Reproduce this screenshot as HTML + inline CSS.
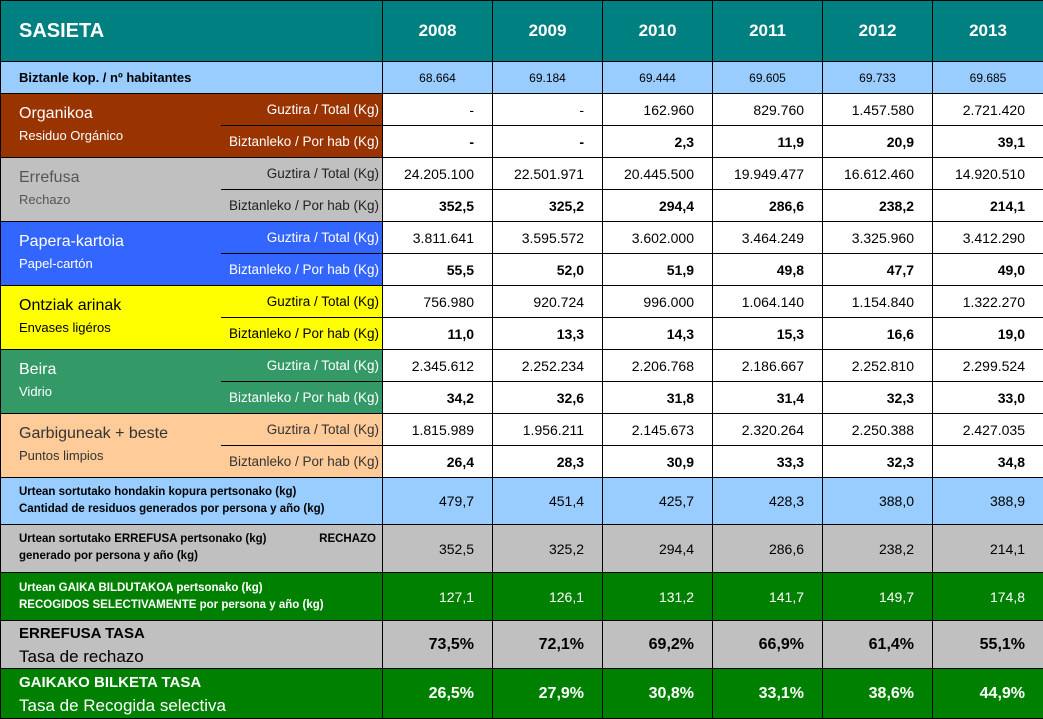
<!DOCTYPE html>
<html><head><meta charset="utf-8"><style>
body{margin:0;background:#fff;}
table{border-collapse:collapse;table-layout:fixed;width:1043px;font-family:"Liberation Sans",sans-serif;}
td{border:1px solid #000;padding:0;overflow:hidden;white-space:nowrap;font-size:14px;}
td.v{text-align:right;padding-right:18px;}
td.b{font-weight:bold;}
.hd td{background:#008080;color:#fff;font-weight:bold;font-size:17px;text-align:center;}
.hab td{background:#99ccff;font-size:12px;}
.cat{padding-left:18px;font-size:16px;vertical-align:top;padding-top:9px;line-height:22px;border-right:none;}
.cat small{font-size:13px;}
.lab{text-align:right;padding-right:3px;font-size:13.5px;border-left:none;}
.lab.t{border-bottom:1px solid #000;}
.sum{font-size:11.5px;font-weight:bold;padding-left:18px;line-height:17px;}
.big{padding-left:18px;font-size:17px;line-height:23px;}
</style></head><body>
<table>
<colgroup><col style="width:220px"><col style="width:162px"><col style="width:110px"><col style="width:110px"><col style="width:110px"><col style="width:110px"><col style="width:110px"><col style="width:111px"></colgroup>
<tr class="hd" style="height:61px"><td colspan="2" style="text-align:left;padding-left:18px;font-size:20px;">SASIETA</td><td>2008</td><td>2009</td><td>2010</td><td>2011</td><td>2012</td><td>2013</td></tr>
<tr class="hab" style="height:32px"><td colspan="2" style="padding-left:18px;font-weight:bold;font-size:13px;">Biztanle kop. / nº habitantes</td><td style="text-align:center">68.664</td><td style="text-align:center">69.184</td><td style="text-align:center">69.444</td><td style="text-align:center">69.605</td><td style="text-align:center">69.733</td><td style="text-align:center">69.685</td></tr>

<tr style="height:32px"><td rowspan="2" class="cat" style="background:#993300;color:#fff">Organikoa<br><small>Residuo Orgánico</small></td><td class="lab t" style="background:#993300;color:#fff">Guztira / Total (Kg)</td><td class="v">-</td><td class="v">-</td><td class="v">162.960</td><td class="v">829.760</td><td class="v">1.457.580</td><td class="v">2.721.420</td></tr>
<tr style="height:32px"><td class="lab" style="background:#993300;color:#fff">Biztanleko / Por hab (Kg)</td><td class="v b">-</td><td class="v b">-</td><td class="v b">2,3</td><td class="v b">11,9</td><td class="v b">20,9</td><td class="v b">39,1</td></tr>

<tr style="height:32px"><td rowspan="2" class="cat" style="background:#c0c0c0;color:#555">Errefusa<br><small>Rechazo</small></td><td class="lab t" style="background:#c0c0c0;color:#222">Guztira / Total (Kg)</td><td class="v">24.205.100</td><td class="v">22.501.971</td><td class="v">20.445.500</td><td class="v">19.949.477</td><td class="v">16.612.460</td><td class="v">14.920.510</td></tr>
<tr style="height:32px"><td class="lab" style="background:#c0c0c0;color:#222">Biztanleko / Por hab (Kg)</td><td class="v b">352,5</td><td class="v b">325,2</td><td class="v b">294,4</td><td class="v b">286,6</td><td class="v b">238,2</td><td class="v b">214,1</td></tr>

<tr style="height:32px"><td rowspan="2" class="cat" style="background:#3366ff;color:#fff">Papera-kartoia<br><small>Papel-cartón</small></td><td class="lab t" style="background:#3366ff;color:#fff">Guztira / Total (Kg)</td><td class="v">3.811.641</td><td class="v">3.595.572</td><td class="v">3.602.000</td><td class="v">3.464.249</td><td class="v">3.325.960</td><td class="v">3.412.290</td></tr>
<tr style="height:32px"><td class="lab" style="background:#3366ff;color:#fff">Biztanleko / Por hab (Kg)</td><td class="v b">55,5</td><td class="v b">52,0</td><td class="v b">51,9</td><td class="v b">49,8</td><td class="v b">47,7</td><td class="v b">49,0</td></tr>

<tr style="height:32px"><td rowspan="2" class="cat" style="background:#ffff00;color:#000">Ontziak arinak<br><small>Envases ligéros</small></td><td class="lab t" style="background:#ffff00;color:#000">Guztira / Total (Kg)</td><td class="v">756.980</td><td class="v">920.724</td><td class="v">996.000</td><td class="v">1.064.140</td><td class="v">1.154.840</td><td class="v">1.322.270</td></tr>
<tr style="height:32px"><td class="lab" style="background:#ffff00;color:#000">Biztanleko / Por hab (Kg)</td><td class="v b">11,0</td><td class="v b">13,3</td><td class="v b">14,3</td><td class="v b">15,3</td><td class="v b">16,6</td><td class="v b">19,0</td></tr>

<tr style="height:32px"><td rowspan="2" class="cat" style="background:#339966;color:#fff">Beira<br><small>Vidrio</small></td><td class="lab t" style="background:#339966;color:#fff">Guztira / Total (Kg)</td><td class="v">2.345.612</td><td class="v">2.252.234</td><td class="v">2.206.768</td><td class="v">2.186.667</td><td class="v">2.252.810</td><td class="v">2.299.524</td></tr>
<tr style="height:32px"><td class="lab" style="background:#339966;color:#fff">Biztanleko / Por hab (Kg)</td><td class="v b">34,2</td><td class="v b">32,6</td><td class="v b">31,8</td><td class="v b">31,4</td><td class="v b">32,3</td><td class="v b">33,0</td></tr>

<tr style="height:32px"><td rowspan="2" class="cat" style="background:#ffcc99;color:#333">Garbiguneak + beste<br><small>Puntos limpios</small></td><td class="lab t" style="background:#ffcc99;color:#333">Guztira / Total (Kg)</td><td class="v">1.815.989</td><td class="v">1.956.211</td><td class="v">2.145.673</td><td class="v">2.320.264</td><td class="v">2.250.388</td><td class="v">2.427.035</td></tr>
<tr style="height:32px"><td class="lab" style="background:#ffcc99;color:#333">Biztanleko / Por hab (Kg)</td><td class="v b">26,4</td><td class="v b">28,3</td><td class="v b">30,9</td><td class="v b">33,3</td><td class="v b">32,3</td><td class="v b">34,8</td></tr>

<tr style="height:47px;background:#99ccff"><td colspan="2" class="sum">Urtean sortutako hondakin kopura pertsonako (kg)<br>Cantidad de residuos generados por persona y año (kg)</td><td class="v">479,7</td><td class="v">451,4</td><td class="v">425,7</td><td class="v">428,3</td><td class="v">388,0</td><td class="v">388,9</td></tr>
<tr style="height:48px;background:#c0c0c0"><td colspan="2" class="sum" style="vertical-align:top;padding-top:6px">Urtean sortutako ERREFUSA pertsonako (kg) <span style="float:right;padding-right:6px">RECHAZO</span><br>generado por persona y año (kg)</td><td class="v">352,5</td><td class="v">325,2</td><td class="v">294,4</td><td class="v">286,6</td><td class="v">238,2</td><td class="v">214,1</td></tr>
<tr style="height:48px;background:#008000;color:#fff"><td colspan="2" class="sum">Urtean GAIKA BILDUTAKOA pertsonako (kg)<br>RECOGIDOS SELECTIVAMENTE por persona y año (kg)</td><td class="v">127,1</td><td class="v">126,1</td><td class="v">131,2</td><td class="v">141,7</td><td class="v">149,7</td><td class="v">174,8</td></tr>
<tr style="height:48px;background:#c0c0c0"><td colspan="2" class="big"><b style="font-size:15px">ERREFUSA TASA</b><br>Tasa de rechazo</td><td class="v b" style="font-size:16px">73,5%</td><td class="v b" style="font-size:16px">72,1%</td><td class="v b" style="font-size:16px">69,2%</td><td class="v b" style="font-size:16px">66,9%</td><td class="v b" style="font-size:16px">61,4%</td><td class="v b" style="font-size:16px">55,1%</td></tr>
<tr style="height:50px;background:#008000;color:#fff"><td colspan="2" class="big"><b style="font-size:15px">GAIKAKO BILKETA TASA</b><br>Tasa de Recogida selectiva</td><td class="v b" style="font-size:16px">26,5%</td><td class="v b" style="font-size:16px">27,9%</td><td class="v b" style="font-size:16px">30,8%</td><td class="v b" style="font-size:16px">33,1%</td><td class="v b" style="font-size:16px">38,6%</td><td class="v b" style="font-size:16px">44,9%</td></tr>
</table>
</body></html>
